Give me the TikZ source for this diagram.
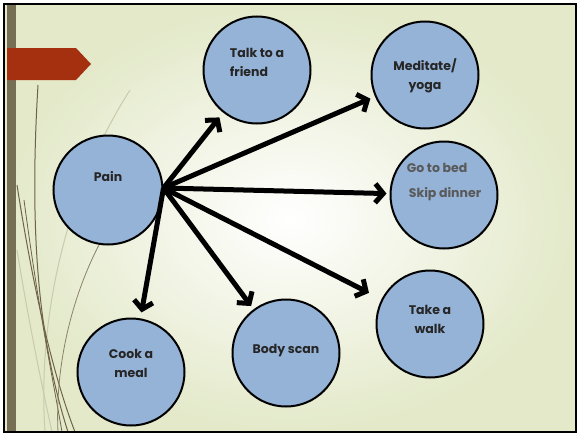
\documentclass[tikz,border=0pt]{standalone}
\usepackage{fontspec}
\setmainfont{Poppins}
\usetikzlibrary{positioning,arrows.meta}
\definecolor{bubblefill}{HTML}{95B3D7}
\definecolor{barbrown}{HTML}{776F55}
\definecolor{tabred}{HTML}{A5300F}
\definecolor{slidegreen}{HTML}{E3E9C9}
\definecolor{softgray}{HTML}{595959}
\definecolor{stemdark}{HTML}{6E6248}
\definecolor{stemlight}{HTML}{C9CAB0}
\tikzset{every picture/.style={line width=0.75pt}}

\begin{document}
\begin{tikzpicture}[x=1pt, y=-1pt, >={Straight Barb[length=8pt,width=19pt]},
        bubble/.style={circle, draw, line width=2pt, fill=bubblefill, minimum size=107pt, inner sep=0pt},
        txt/.style={font=\bfseries\fontsize{12.5}{19}\selectfont, text=black!85, align=center},
        link/.style={->, line width=5pt, shorten >=6pt}]
        % slide background
        \useasboundingbox (0,0) rectangle (579,434);
        \fill[inner color=white, outer color=slidegreen] (5,5) rectangle (576,432);
        \fill[barbrown] (7,5) rectangle (16,432);
        \draw[stemlight, line width=1pt] (130,90) .. controls (60,200) and (38,330) .. (45,432);
        \draw[stemlight, line width=1pt] (17,250) .. controls (30,330) and (45,400) .. (52,432);
        \draw[stemdark, line width=1pt] (38,85) .. controls (28,250) and (42,350) .. (68,432);
        \draw[stemdark, line width=1pt] (17,185) .. controls (35,300) and (55,380) .. (75,432);
        \draw[stemdark, line width=0.8pt] (24,200) .. controls (40,320) and (55,390) .. (62,432);
        \draw[stemdark!80, line width=0.8pt] (100,243) .. controls (70,300) and (55,370) .. (58,432);
        \fill[tabred] (7,48) -- (76,48) -- (91,64) -- (76,80) -- (7,80) -- cycle;
        \draw[line width=2pt] (4,4) rectangle (576,432);
        % circles
        \node[bubble, minimum size=109pt, label={[txt, yshift=13pt]center:Pain}] (pain) at (108,190) {};
        \node[bubble, label={[txt, align=left, yshift=8pt]center:Talk to a\\friend}] (talk) at (257,70) {};
        \node[bubble, label={[txt, yshift=-1pt]center:Meditate/\\yoga}] (yoga) at (425,75) {};
        \node[bubble, label={[txt, text=softgray, align=left, yshift=13pt]center:Go to bed\\[6pt]\hspace*{2pt}Skip dinner}] (bed) at (444,195) {};
        \node[bubble, label={[txt, yshift=5pt]center:Take a\\walk}] (walk) at (430,324) {};
        \node[bubble, label={[txt, yshift=2pt]center:Body scan}] (scan) at (286,353) {};
        \node[bubble, label={[txt, yshift=9pt]center:Cook a\\meal}] (cook) at (131,372) {};
        % arrows
        \coordinate (hub) at ([yshift=2pt]pain.east);
        \draw[link] (hub) -- (talk);
        \draw[link, shorten >=5pt] (hub) -- (yoga);
        \draw[link, shorten >=3pt] (hub) -- (bed);
        \draw[link, shorten >=14pt] (hub) -- (walk);
        \draw[link, shorten >=4pt] (hub) -- (scan);
        \draw[link] (hub) -- (cook);
    \end{tikzpicture}
\end{document}
